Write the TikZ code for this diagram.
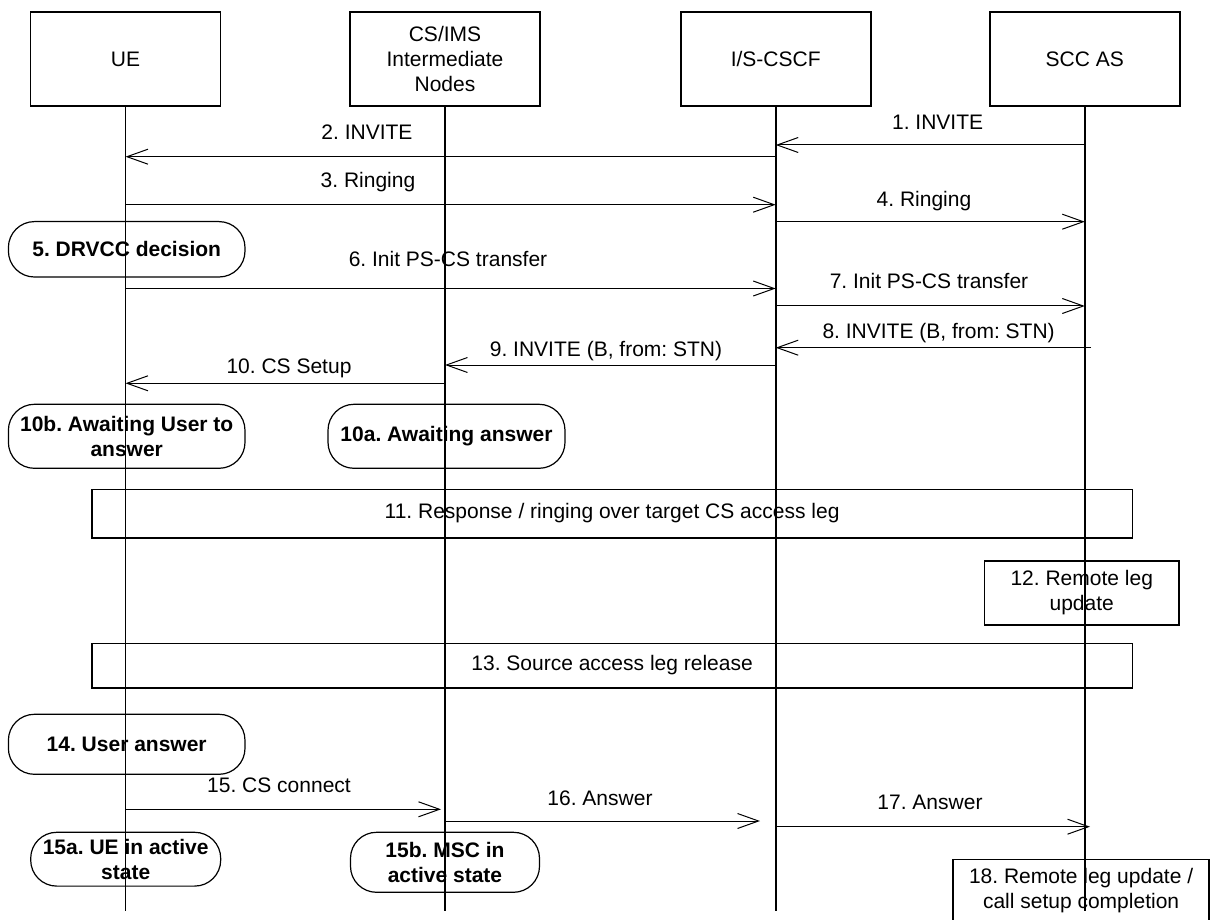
\documentclass[tikz,border=0pt]{standalone}
\usepackage{fontspec}
\setmainfont{Liberation Sans}
\usetikzlibrary{arrows.meta}
\frenchspacing
\begin{document}
\begin{tikzpicture}[x=0.5pt,y=-0.5pt,
  font=\fontsize{10.5}{12.5}\selectfont,
  entity/.style={draw, line width=0.8pt, minimum width=95pt, minimum height=47pt, align=center, inner sep=0pt},
  statebox/.style={draw, line width=0.6pt, rounded corners=13pt, font=\fontsize{10.5}{12.5}\selectfont\bfseries, align=center, inner sep=0pt},
  procbox/.style={draw, line width=0.8pt, align=center, inner sep=0pt},
  life/.style={line width=0.9pt},
  msg/.style={line width=0.5pt, -{Straight Barb[length=10.5pt,width=7.5pt,line width=0.5pt]}},
  lbl/.style={inner sep=0pt, anchor=base}]
\useasboundingbox (0,0) rectangle (1212,920);

% entities
\node[entity] (ue)   at (125.5,58.9) {UE};
\node[entity] (ims)  at (445,58.9)   {CS/IMS\\Intermediate\\Nodes};
\node[entity] (cscf) at (775.7,58.9) {I/S-CSCF};
\node[entity] (scc)  at (1084.8,58.9) {SCC AS};

% lifeline ends
\coordinate (ue-e)   at (ue.south |- 0,911);
\coordinate (ims-e)  at (ims.south |- 0,911);
\coordinate (cscf-e) at (cscf.south |- 0,911);
\coordinate (scc-e)  at (scc.south |- 0,911);
\draw[life] (ue.south) -- (ue-e);
\draw[life] (ims.south) -- (ims-e);
\draw[life] (cscf.south) -- (cscf-e);
\draw[life] (scc.south) -- (scc-e);

% messages
\draw[msg] (scc |- 0,145) -- (cscf |- 0,145);
\node[lbl] (l1) at (937.6,130) {1. INVITE};
\draw[msg] (cscf |- 0,156.7) -- (ue |- 0,156.7);
\node[lbl] (l2) at (367,140) {2. INVITE};
\draw[msg] (ue |- 0,204.7) -- (cscf |- 0,204.7);
\node[lbl] (l3) at (368,188) {3. Ringing};
\draw[msg] (cscf |- 0,221.7) -- (scc |- 0,221.7);
\node[lbl] (l4) at (924,206) {4. Ringing};

\node[statebox, minimum width=118.3pt, minimum height=27.7pt] (s5) at (126.7,249.3) {5. DRVCC decision};

\draw[msg] (ue |- 0,288.5) -- (cscf |- 0,288.5);
\node[lbl] (l6) at (448,267) {6. Init PS-CS transfer};
\draw[msg] (cscf |- 0,306) -- (scc |- 0,306);
\node[lbl] (l7) at (929,288) {7. Init PS-CS transfer};
\coordinate (p8) at (1091,347.7);
\draw[msg] (p8) -- (cscf |- p8);
\node[lbl] (l8) at (938.6,338.7) {8. INVITE (B, from: STN)};
\draw[msg] (cscf |- 0,365) -- (ims |- 0,365);
\node[lbl] (l9) at (606,357) {9. INVITE (B, from: STN)};
\draw[msg] (ims |- 0,383.3) -- (ue |- 0,383.3);
\node[lbl] (l10) at (289,373.7) {10. CS Setup};

\node[statebox, minimum width=118.3pt, minimum height=32pt] (s10b) at (126.7,436.3) {10b. Awaiting User to\\answer};
\node[statebox, minimum width=118.5pt, minimum height=32pt] (s10a) at (446.5,436.3) {10a. Awaiting answer};

\node[procbox, minimum width=520.3pt, minimum height=24.2pt] (p11) at (612.1,513.5) {11. Response / ringing over target CS access leg};
\node[procbox, minimum width=97.25pt, minimum height=32.15pt] (p12) at (1081.75,592.85) {12. Remote leg\\update};
\node[procbox, minimum width=520.3pt, minimum height=22.2pt] (p13) at (612.1,665.5) {13. Source access leg release};

\node[statebox, minimum width=118.3pt, minimum height=30pt] (s14) at (126.7,744.3) {14. User answer};

\coordinate (t15) at (441,809.3);
\draw[msg] (ue |- t15) -- (t15);
\node[lbl] (l15) at (279,792) {15. CS connect};
\coordinate (t16) at (760,821);
\draw[msg] (ims |- t16) -- (t16);
\node[lbl] (l16) at (600,805) {16. Answer};
\coordinate (t17) at (1090,826.7);
\draw[msg] (cscf |- t17) -- (t17);
\node[lbl] (l17) at (930,809.7) {17. Answer};

\node[statebox, minimum width=95pt, minimum height=26.9pt] (s15a) at (125.7,859.2) {15a. UE in active\\state};
\node[statebox, minimum width=94.5pt, minimum height=30pt] (s15b) at (445,862.3) {15b. MSC in\\active state};

\node[procbox, minimum width=127.9pt, minimum height=30.9pt] (p18) at (1081.1,890.2) {18. Remote leg update /\\call setup completion};
\end{tikzpicture}
\end{document}
